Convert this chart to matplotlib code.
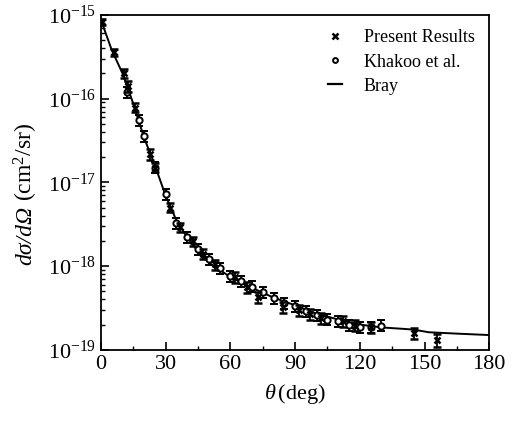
import numpy as np
import matplotlib
matplotlib.use("Agg")
import matplotlib.pyplot as plt
from matplotlib.ticker import FixedLocator, LogLocator, NullFormatter
from matplotlib.lines import Line2D

plt.rcParams['font.family'] = ['Liberation Serif', 'DejaVu Serif']
plt.rcParams['mathtext.fontset'] = 'custom'
plt.rcParams['mathtext.rm'] = 'Liberation Serif'
plt.rcParams['mathtext.it'] = 'Liberation Serif:italic'
plt.rcParams['mathtext.bf'] = 'Liberation Serif:bold'

# Bray theory curve
bray_theta = [0, 5, 10, 15, 20, 25, 30, 35, 40, 45, 50, 60, 70, 80, 90, 100, 110,
              120, 130, 140, 145, 152, 165, 180]
bray_dcs = [8.7e-16, 3.8e-16, 2.0e-16, 8.7e-17, 3.4e-17, 1.6e-17, 6.9e-18, 3.5e-18,
            2.2e-18, 1.5e-18, 1.1e-18, 7.4e-19, 5.5e-19, 4.2e-19, 3.4e-19, 2.7e-19,
            2.3e-19, 2.0e-19, 1.85e-19, 1.78e-19, 1.74e-19, 1.62e-19, 1.56e-19, 1.5e-19]

# Present results
pr_theta = [0.5, 6, 10.8, 12.4, 16, 22.7, 25, 32, 36.6, 42.5, 47.4, 52.9, 62, 67.6,
            73, 84.5, 92, 97, 102, 112, 118, 125, 145, 156]
pr_dcs = [8.2e-16, 3.6e-16, 2.0e-16, 1.4e-16, 7.8e-17, 2.2e-17, 1.5e-17, 5.0e-18,
          2.9e-18, 2.0e-18, 1.4e-18, 1.05e-18, 7.4e-19, 5.6e-19, 4.3e-19, 3.2e-19,
          3.0e-19, 2.7e-19, 2.4e-19, 2.2e-19, 1.95e-19, 1.85e-19, 1.6e-19, 1.3e-19]
pr_err = [0.08, 0.1, 0.12, 0.15, 0.12, 0.15, 0.12, 0.12, 0.12, 0.12, 0.14, 0.14, 0.15,
          0.14, 0.15, 0.15, 0.15, 0.15, 0.15, 0.15, 0.15, 0.15, 0.15, 0.18]

# Khakoo et al.
kh_theta = [12, 17.8, 20, 25, 30, 35, 40, 45, 50, 55, 60, 65, 70, 75, 80, 85, 90,
            95, 100, 105, 110, 115, 120, 125, 130]
kh_dcs = [1.2e-16, 5.5e-17, 3.6e-17, 1.5e-17, 7.2e-18, 3.3e-18, 2.2e-18, 1.6e-18,
          1.2e-18, 9.5e-19, 7.6e-19, 6.6e-19, 5.7e-19, 4.9e-19, 4.2e-19, 3.6e-19,
          3.3e-19, 2.9e-19, 2.6e-19, 2.3e-19, 2.2e-19, 2.0e-19, 1.85e-19, 1.85e-19,
          1.95e-19]
kh_err = 0.15

x_ticks = [0, 30, 60, 90, 120, 150, 180]

fig = plt.figure(figsize=(5.15, 4.24), dpi=100)
ax = fig.add_axes([0.196, 0.175, 0.754, 0.79])

ax.plot(bray_theta, bray_dcs, color='black', lw=1.4, zorder=3)

kh_d = np.array(kh_dcs)
ax.errorbar(kh_theta, kh_d, yerr=kh_err * kh_d, fmt='o', ms=4.5, mfc='white',
            mec='black', mew=1.4, ecolor='black', elinewidth=1.3, capsize=3,
            capthick=1.6, zorder=4)

pr_d = np.array(pr_dcs)
pr_e = np.array(pr_err) * pr_d
ax.errorbar(pr_theta, pr_d, yerr=pr_e, fmt='x', ms=5, mec='black', mew=1.8,
            ecolor='black', elinewidth=1.3, capsize=3, capthick=1.6, zorder=5)

ax.set_yscale('log')
ax.set_xlim(0, 180)
ax.set_ylim(1e-19, 1e-15)
ax.xaxis.set_major_locator(FixedLocator(x_ticks))
ax.xaxis.set_minor_locator(FixedLocator(np.arange(15, 180, 30)))
ax.set_xticklabels([str(t) for t in x_ticks])
ax.yaxis.set_minor_locator(LogLocator(base=10, subs=np.arange(2, 10), numticks=20))
ax.yaxis.set_minor_formatter(NullFormatter())
ax.set_yticks([1e-15, 1e-16, 1e-17, 1e-18, 1e-19])
ax.set_yticklabels([r'10$^{-15}$', r'10$^{-16}$', r'10$^{-17}$', r'10$^{-18}$', r'10$^{-19}$'])

ax.tick_params(axis='both', which='major', direction='in', length=6, width=1.2,
               labelsize=16, top=False, right=False)
ax.tick_params(axis='both', which='minor', direction='in', length=3, width=1,
               top=False, right=False)
for s in ax.spines.values():
    s.set_linewidth(1.3)

ax.set_xlabel(r'$\mathit{θ}\,$(deg)', fontsize=16, labelpad=6)

# y label: italic quantity + upright unit
ylab_x = 0.05
t1 = fig.text(ylab_x, 0.375, 'dσ/dΩ', rotation=90, style='italic', fontsize=17,
              ha='center', va='bottom')
fig.canvas.draw()
bb = t1.get_window_extent(fig.canvas.get_renderer())
top_frac = bb.y1 / fig.bbox.height
fig.text(ylab_x, top_frac + 0.012, r'(cm$^2$/sr)', rotation=90, fontsize=17,
         ha='center', va='bottom')

handles = [Line2D([], [], ls='none', marker='x', ms=4, mew=1.8, color='black'),
           Line2D([], [], ls='none', marker='o', ms=3.5, mfc='white', mew=1.4, color='black'),
           Line2D([], [], ls='-', lw=1.6, color='black')]
labels = ['Present Results', 'Khakoo et al.', 'Bray']
ax.legend(handles, labels, loc='upper right', frameon=False, fontsize=13,
          handlelength=0.8, handletextpad=1.2, borderaxespad=0.4, labelspacing=0.4)

fig.savefig('out.png', dpi=100)
